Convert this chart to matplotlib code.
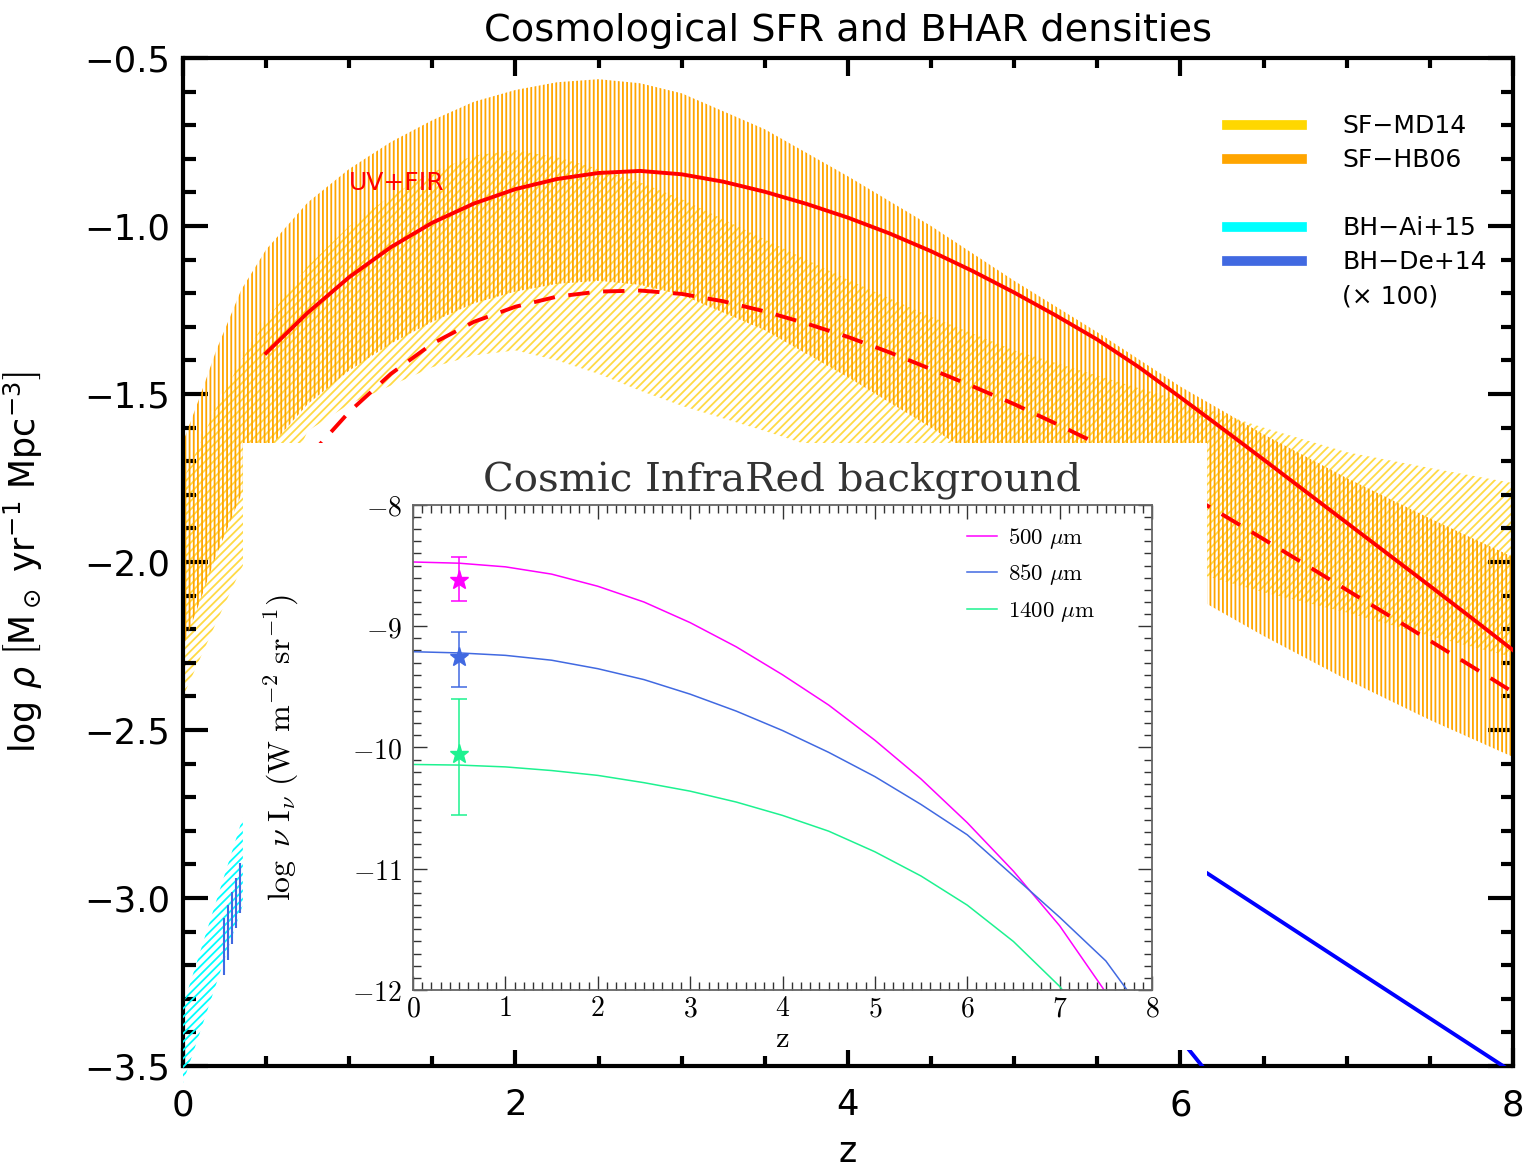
import matplotlib
matplotlib.use('Agg')
import matplotlib.pyplot as plt
from matplotlib.lines import Line2D
from matplotlib.ticker import MultipleLocator, FuncFormatter

# --- Données ---

# bandes de SFR (log rho)
z_sf = [0, 0.1, 0.2, 0.35, 0.5, 0.75, 1.0, 1.25, 1.5, 1.75, 2.0, 2.25, 2.5,
        2.75, 3.0, 3.5, 4.0, 4.5, 5.0, 5.5, 6.0, 6.5, 7.0, 7.5, 8.0]
hb06_hi = [-1.643, -1.51, -1.37, -1.19, -1.07, -0.93, -0.83, -0.75, -0.685, -0.63,
           -0.595, -0.572, -0.563, -0.575, -0.605, -0.712, -0.852, -1.0, -1.163,
           -1.316, -1.478, -1.62, -1.75, -1.87, -1.985]
hb06_lo = [-2.253, -2.12, -1.98, -1.80, -1.67, -1.53, -1.43, -1.35, -1.285, -1.23,
           -1.195, -1.172, -1.163, -1.175, -1.205, -1.31, -1.45, -1.60, -1.76,
           -1.915, -2.08, -2.22, -2.35, -2.47, -2.58]
md14_hi = [-1.756, -1.65, -1.54, -1.40, -1.28, -1.12, -1.0, -0.91, -0.84, -0.79,
           -0.775, -0.795, -0.83, -0.87, -0.92, -1.04, -1.16, -1.27, -1.37,
           -1.445, -1.52, -1.60, -1.673, -1.72, -1.765]
md14_lo = [-2.40, -2.29, -2.18, -2.02, -1.88, -1.61, -1.53, -1.475, -1.42, -1.385,
           -1.37, -1.40, -1.44, -1.49, -1.535, -1.61, -1.69, -1.78, -1.87,
           -1.95, -2.02, -2.09, -2.15, -2.22, -2.283]

# courbes UV+FIR (trait plein) et UV (tirets)
z_uvfir = [0.5, 0.75, 1.0, 1.25, 1.5, 1.75, 2.0, 2.25, 2.5, 2.75, 3.0, 3.25, 3.5,
           3.75, 4.0, 4.25, 4.5, 4.75, 5.0, 5.25, 5.5, 5.75, 6.0, 6.25, 6.5, 6.75,
           7.0, 7.25, 7.5, 7.75, 8.0]
sfr_uvfir = [-1.378, -1.258, -1.152, -1.063, -0.990, -0.933, -0.890, -0.860, -0.842,
             -0.836, -0.846, -0.868, -0.898, -0.934, -0.975, -1.022, -1.075, -1.134,
             -1.198, -1.266, -1.338, -1.420, -1.510, -1.602, -1.695, -1.789, -1.883,
             -1.977, -2.071, -2.166, -2.262]
z_uv = [0.75, 1.0, 1.25, 1.5, 1.75, 2.0, 2.25, 2.5, 2.75, 3.0, 3.25, 3.5, 3.75, 4.0,
        4.25, 4.5, 4.75, 5.0, 5.25, 5.5, 5.75, 6.0, 6.25, 6.5, 6.75, 7.0, 7.25, 7.5,
        7.75, 8.0]
sfr_uv = [-1.690, -1.553, -1.440, -1.350, -1.285, -1.240, -1.210, -1.195, -1.192,
          -1.202, -1.224, -1.254, -1.290, -1.330, -1.376, -1.426, -1.477, -1.530,
          -1.588, -1.648, -1.714, -1.785, -1.858, -1.932, -2.007, -2.083, -2.158,
          -2.234, -2.310, -2.387]

# BHAR (x 100)
z_ai = [0.0, 0.36]
ai_hi = [-3.32, -2.76]
ai_lo = [-3.55, -3.02]
z_de_pts = [0.249, 0.271, 0.297, 0.319, 0.345]
de_pts_lo = [-3.229, -3.184, -3.137, -3.089, -3.045]
de_pts_hi = [-3.060, -3.021, -2.982, -2.940, -2.896]
z_de = [6.0, 6.16, 7.0, 8.0]
bh_de = [-2.874, -2.926, -3.197, -3.519]
z_tail = [6.0, 6.13]
bh_tail = [-3.42, -3.50]

# encart : fond infrarouge cosmique
z_cib = [0, 0.5, 1, 1.5, 2, 2.5, 3, 3.5, 4, 4.5, 5, 5.5, 6, 6.5, 7, 7.5]
cib_500 = [-8.47, -8.48, -8.51, -8.57, -8.67, -8.80, -8.97, -9.17, -9.40, -9.65,
           -9.94, -10.26, -10.62, -11.02, -11.47, -12.02]
z_cib850 = [0, 0.5, 1, 1.5, 2, 2.5, 3, 3.5, 4, 4.5, 5, 5.5, 6, 6.5, 7, 7.5, 7.73]
cib_850 = [-9.21, -9.22, -9.24, -9.28, -9.35, -9.44, -9.56, -9.70, -9.86, -10.04,
           -10.24, -10.47, -10.72, -11.06, -11.40, -11.76, -12.0]
z_cib1400 = [0, 0.5, 1, 1.5, 2, 2.5, 3, 3.5, 4, 4.5, 5, 5.5, 6, 6.5, 7, 7.03]
cib_1400 = [-10.14, -10.145, -10.16, -10.19, -10.23, -10.29, -10.36, -10.45, -10.56,
            -10.69, -10.86, -11.06, -11.30, -11.60, -11.97, -12.0]
z_obs = 0.5
obs_val = [-8.62, -9.25, -10.05]
obs_lo = [-8.79, -9.50, -10.56]
obs_hi = [-8.426, -9.05, -9.60]
cib_labels = [r'$500\ \mu\mathrm{m}$', r'$850\ \mu\mathrm{m}$', r'$1400\ \mu\mathrm{m}$']
cib_colors = ['#FF00FF', '#4169E1', '#1DF290']

# --- Style ---
plt.rcParams['font.family'] = 'DejaVu Sans'
plt.rcParams['mathtext.fontset'] = 'cm'
plt.rcParams['hatch.linewidth'] = 1.3

fig = plt.figure(figsize=(15.25, 11.68), dpi=100)
ax = fig.add_axes([0.12, 0.0873, 0.8721, 0.863])

ax.fill_between(z_sf, md14_lo, md14_hi, facecolor='none', edgecolor='#FFDA45',
                hatch='////', linewidth=0, zorder=1)
ax.fill_between(z_sf, hb06_lo, hb06_hi, facecolor='none', edgecolor='#FFA500',
                hatch='||||', linewidth=0, zorder=2)
ax.plot(z_uvfir, sfr_uvfir, color='red', lw=2.8, zorder=4)
ax.plot(z_uv, sfr_uv, color='red', lw=2.8, ls=(0, (5.5, 3.5)), zorder=4)

ax.fill_between(z_ai, ai_lo, ai_hi, facecolor='none', edgecolor='#00FFFF',
                hatch='////', linewidth=0, zorder=3, clip_on=False)
ax.vlines(z_de_pts, de_pts_lo, de_pts_hi, color='#4169E1', lw=1.5, zorder=4)
ax.plot(z_de, bh_de, color='#0000FF', lw=2.8, zorder=4)
ax.plot(z_tail, bh_tail, color='#0000FF', lw=2.8, zorder=4)

ax.text(1.0, -0.872, 'UV+FIR', color='red', fontsize=18, va='center', ha='left')

ax.set_xlim(0, 8)
ax.set_ylim(-3.5, -0.5)
ax.xaxis.set_major_locator(MultipleLocator(2))
ax.xaxis.set_minor_locator(MultipleLocator(0.5))
ax.yaxis.set_major_locator(MultipleLocator(0.5))
ax.yaxis.set_minor_locator(MultipleLocator(0.1))
ax.yaxis.set_major_formatter(FuncFormatter(lambda v, p: f'{v:.1f}'.replace('-', '\u2212')))
ax.tick_params(which='both', direction='in', top=True, right=True, width=3,
               labelsize=25.5)
ax.tick_params(axis='x', which='major', length=13, pad=16)
ax.tick_params(axis='x', which='minor', length=7)
ax.tick_params(axis='y', which='major', length=18, pad=9)
ax.tick_params(axis='y', which='minor', length=9)
for s in ax.spines.values():
    s.set_linewidth(3)

ax.set_title('Cosmological SFR and BHAR densities', fontsize=27.5, pad=12)
ax.set_xlabel('z', fontsize=25)
ax.xaxis.set_label_coords(0.5, -0.068)
ax.set_ylabel(r'log $\rho$ $\left[\mathrm{M_\odot\ yr^{-1}\ Mpc^{-3}}\right]$',
              fontsize=25, math_fontfamily='dejavusans')
ax.yaxis.set_label_coords(-0.104, 0.5)

handles = [Line2D([], [], color='#FFD700', lw=7),
           Line2D([], [], color='#FFA500', lw=7),
           Line2D([], [], color='none'),
           Line2D([], [], color='#00FFFF', lw=7),
           Line2D([], [], color='#4169E1', lw=7),
           Line2D([], [], color='none')]
labels = ['SF\u2212MD14', 'SF\u2212HB06', ' ', 'BH\u2212Ai+15', 'BH\u2212De+14', '(\u00d7 100)']
ax.legend(handles, labels, loc='upper left', bbox_to_anchor=(0.785, 0.944),
          frameon=False, fontsize=18, handlelength=3.0, handletextpad=1.6,
          labelspacing=0.4, borderpad=0, borderaxespad=0)

# --- Encart ---
ax_box = fig.add_axes([243 / 1525, 1 - 1050 / 1168, 964 / 1525, 607 / 1168], zorder=5)
ax_box.set_facecolor('white')
ax_box.set_xticks([])
ax_box.set_yticks([])
for s in ax_box.spines.values():
    s.set_visible(False)

ax_in = fig.add_axes([413 / 1525, 1 - 990 / 1168, 739 / 1525, 485 / 1168], zorder=6)
ax_in.plot(z_cib, cib_500, color=cib_colors[0], lw=1.1, label=cib_labels[0])
ax_in.plot(z_cib850, cib_850, color=cib_colors[1], lw=1.1, label=cib_labels[1])
ax_in.plot(z_cib1400, cib_1400, color=cib_colors[2], lw=1.1, label=cib_labels[2])
for val, lo, hi, col in zip(obs_val, obs_lo, obs_hi, cib_colors):
    ax_in.errorbar([z_obs], [val], yerr=[[val - lo], [hi - val]], fmt='*', color=col,
                   ms=14, capsize=6, elinewidth=1.1, capthick=1.1)
ax_in.set_xlim(0, 8)
ax_in.set_ylim(-12, -8)
ax_in.xaxis.set_major_locator(MultipleLocator(1))
ax_in.xaxis.set_minor_locator(MultipleLocator(0.1))
ax_in.yaxis.set_major_locator(MultipleLocator(1))
ax_in.yaxis.set_minor_locator(MultipleLocator(0.1))
ax_in.xaxis.set_major_formatter(FuncFormatter(lambda v, p: r'$%d$' % v))
ax_in.yaxis.set_major_formatter(FuncFormatter(lambda v, p: r'$%d$' % v))
ax_in.tick_params(which='both', direction='in', top=True, right=True, width=1,
                  color='#333333', labelsize=20)
ax_in.tick_params(which='major', length=10)
ax_in.tick_params(which='minor', length=6)
ax_in.tick_params(axis='y', pad=8)
ax_in.tick_params(axis='x', pad=3)
for s in ax_in.spines.values():
    s.set_color('#666666')
    s.set_linewidth(1.3)
ax_in.set_title('Cosmic InfraRed background', fontsize=29, family='DejaVu Serif',
                color='#333333', pad=10)
ax_in.set_xlabel(r'$\mathrm{z}$', fontsize=22, labelpad=1)
ax_in.set_ylabel(r'$\log\ \nu\ \mathrm{I}_\nu\ (\mathrm{W\ m^{-2}\ sr^{-1}})$', fontsize=23)
ax_in.yaxis.set_label_coords(-0.152, 0.5)
ax_in.legend(loc='upper left', bbox_to_anchor=(0.75, 0.957), frameon=False,
             fontsize=16.5, handlelength=1.3, handletextpad=0.5, labelspacing=0.5,
             borderpad=0, borderaxespad=0)

plt.savefig('out.png', dpi=100)
